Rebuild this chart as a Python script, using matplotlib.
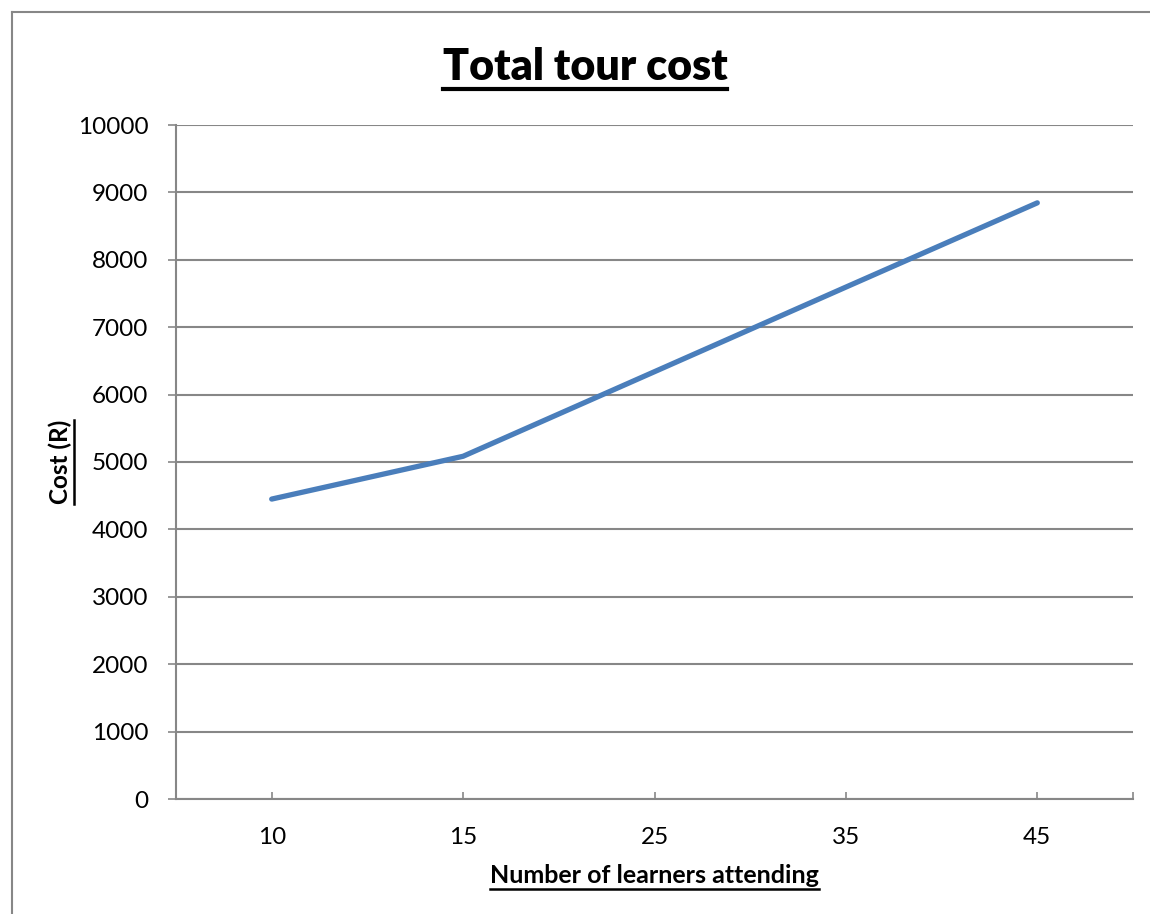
import matplotlib
matplotlib.use("Agg")
import matplotlib.pyplot as plt
from matplotlib.lines import Line2D

plt.rcParams['font.family'] = ['Lato', 'DejaVu Sans']

# data
learners = ['10', '15', '25', '35', '45']
cost = [4450, 5085, 6340, 7595, 8845]
y_ticks = list(range(0, 10001, 1000))

W, H = 1150, 914
fig = plt.figure(figsize=(W / 100, H / 100), dpi=100)
ax = fig.add_axes([176 / W, (H - 799) / H, 957 / W, 674 / H])

grey = '#878787'
x = [i + 0.5 for i in range(len(learners))]
ax.plot(x, cost, color='#4a7ebb', lw=3.8, solid_capstyle='round', zorder=3)

ax.set_xlim(0, len(learners))
ax.set_ylim(0, 10000)
ax.set_yticks(y_ticks)
ax.set_yticklabels([str(v) for v in y_ticks])
ax.set_xticks(x)
ax.set_xticklabels(learners)
ax.set_xticks([len(learners)], minor=True)
ax.yaxis.grid(True, color=grey, lw=1.5)
ax.set_axisbelow(True)

for s in ['top', 'right']:
    ax.spines[s].set_visible(False)
for s in ['left', 'bottom']:
    ax.spines[s].set_color(grey)
    ax.spines[s].set_linewidth(1.5)

ax.tick_params(axis='y', direction='out', length=6, width=1.2, color=grey,
               labelsize=17.5, pad=14)
ax.tick_params(axis='x', which='both', direction='in', length=5, width=1.2,
               color=grey, labelsize=17.5, pad=20)

xl = ax.set_xlabel('Number of learners attending', fontsize=18, fontweight='bold', labelpad=12)
yl = ax.set_ylabel('Cost (R)', fontsize=17.5, fontweight='bold', labelpad=4)
title = fig.text(585 / W, 1 - 80 / H, 'Total tour cost', fontsize=31, fontweight='heavy',
                 ha='center', va='baseline')

# underline the title and axis labels
fig.canvas.draw()
r = fig.canvas.get_renderer()
for t, vertical in [(title, False), (xl, False), (yl, True)]:
    bb = t.get_window_extent(r)
    if vertical:
        xx = (bb.x1 + 2) / W
        fig.add_artist(Line2D([xx, xx], [bb.y0 / H, bb.y1 / H], color='black', lw=1.8))
    else:
        yy = (bb.y0 - 2) / H
        fig.add_artist(Line2D([bb.x0 / W, bb.x1 / W], [yy, yy], color='black',
                              lw=3 if t is title else 1.8))

# outer frame
fig.add_artist(Line2D([12 / W, 12 / W], [0, 1 - 12 / H], color=grey, lw=1.5))
fig.add_artist(Line2D([12 / W, 1], [1 - 12 / H, 1 - 12 / H], color=grey, lw=1.5))

fig.savefig('out.png', dpi=100)
